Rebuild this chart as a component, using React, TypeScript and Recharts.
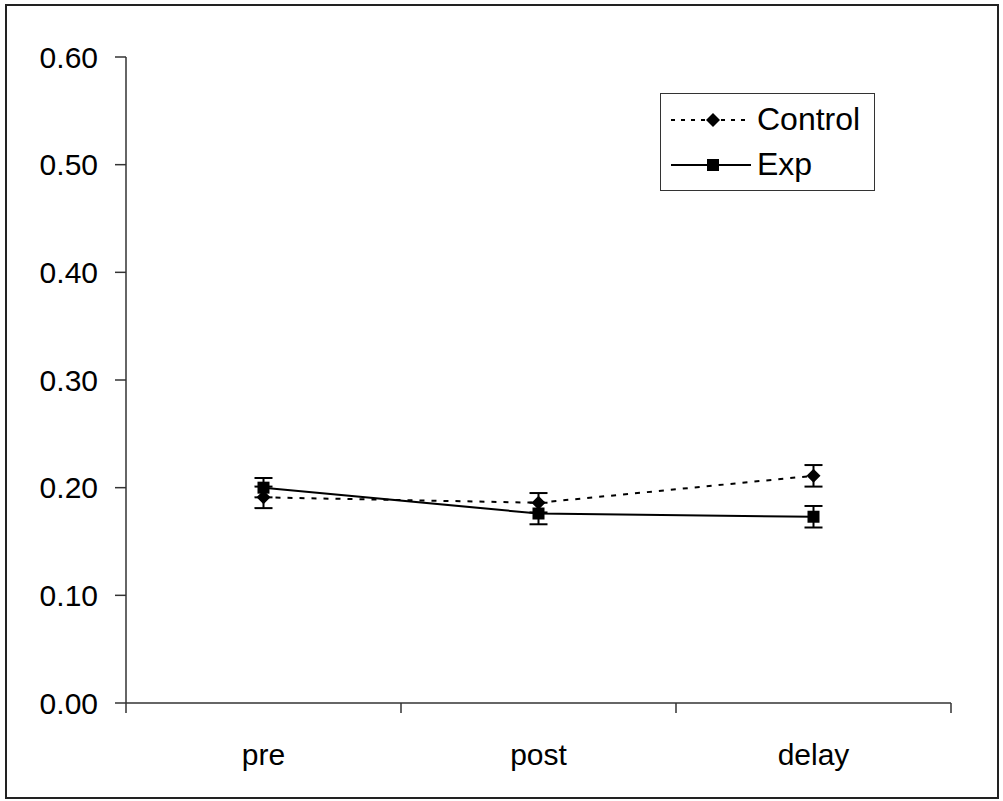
import React from 'react';
import { LineChart, Line, XAxis, YAxis, ErrorBar, Legend } from 'recharts';

const categories = ['pre', 'post', 'delay'];
const controlValues = [0.191, 0.186, 0.211];
const controlErrors = [0.01, 0.009, 0.01];
const expValues = [0.2, 0.176, 0.173];
const expErrors = [0.009, 0.01, 0.01];
const yTicks = [0, 0.1, 0.2, 0.3, 0.4, 0.5, 0.6];
const bandTicks = [-0.5, 0.5, 1.5, 2.5];
const labelTicks = [0, 1, 2];

const data = categories.map((name, i) => ({
  x: i,
  name,
  control: controlValues[i],
  controlErr: controlErrors[i],
  exp: expValues[i],
  expErr: expErrors[i],
}));

const FONT = '"Liberation Sans", Arial, sans-serif';

const Diamond = (props: any) => {
  const { cx, cy, index } = props;
  if (cx == null || cy == null) return null;
  const r = 7;
  return (
    <polygon
      key={`d-${index}`}
      points={`${cx},${cy - r} ${cx + r},${cy} ${cx},${cy + r} ${cx - r},${cy}`}
      fill="#000"
    />
  );
};

const Square = (props: any) => {
  const { cx, cy, index } = props;
  if (cx == null || cy == null) return null;
  const s = 12;
  return <rect key={`s-${index}`} x={cx - s / 2} y={cy - s / 2} width={s} height={s} fill="#000" />;
};

const legendItems = [
  { label: 'Control', dash: '4 6', shape: 'diamond' },
  { label: 'Exp', dash: undefined, shape: 'square' },
];

const LegendBox = () => (
  <div style={{ fontFamily: FONT, fontSize: 32, color: '#000' }}>
    {legendItems.map((item) => (
      <div key={item.label} style={{ display: 'flex', alignItems: 'center', height: 45 }}>
        <svg width={86} height={20} style={{ marginLeft: 8 }}>
          <line x1={2} y1={10} x2={82} y2={10} stroke="#000" strokeWidth={2} strokeDasharray={item.dash} />
          {item.shape === 'diamond' ? (
            <polygon points="44,3 51,10 44,17 37,10" fill="#000" />
          ) : (
            <rect x={38} y={4} width={12} height={12} fill="#000" />
          )}
        </svg>
        <span style={{ marginLeft: 2 }}>{item.label}</span>
      </div>
    ))}
  </div>
);

export default function App() {
  return (
    <div style={{ position: 'absolute', left: 0, top: 0, width: 1003, height: 801, background: '#fff' }}>
      <div
        style={{
          position: 'absolute',
          left: 5,
          top: 4,
          width: 994,
          height: 795,
          border: '2px solid #222',
          boxSizing: 'border-box',
        }}
      />
      <LineChart
        width={1003}
        height={801}
        data={data}
        margin={{ top: 57, right: 52, bottom: 0, left: 26 }}
        style={{ position: 'absolute', left: 0, top: 0 }}
      >
        <XAxis
          dataKey="x"
          type="number"
          domain={[-0.5, 2.5]}
          ticks={bandTicks}
          tickFormatter={() => ''}
          tickSize={10}
          height={1}
          stroke="#333"
          strokeWidth={1.5}
        />
        <XAxis
          xAxisId="labels"
          dataKey="x"
          type="number"
          domain={[-0.5, 2.5]}
          ticks={labelTicks}
          tickFormatter={(v: number) => categories[v]}
          axisLine={false}
          tickLine={false}
          tickSize={0}
          tickMargin={40}
          height={97}
          tick={{ fill: '#000', fontSize: 30, fontFamily: FONT }}
        />
        <YAxis
          type="number"
          domain={[0, 0.6]}
          ticks={yTicks}
          tickFormatter={(v: number) => v.toFixed(2)}
          width={100}
          tickSize={11}
          tickMargin={17}
          stroke="#333"
          strokeWidth={1.5}
          tick={{ fill: '#000', fontSize: 30, fontFamily: FONT }}
        />
        <Legend
          layout="horizontal"
          verticalAlign="middle"
          align="center"
          content={<LegendBox />}
          wrapperStyle={{
            left: 660,
            top: 93,
            width: 215,
            height: 98,
            border: '1.5px solid #333',
            background: '#fff',
            boxSizing: 'border-box',
            paddingTop: 3,
          }}
        />
        <Line
          dataKey="control"
          stroke="#000"
          strokeWidth={2}
          strokeDasharray="5 7"
          dot={Diamond}
          activeDot={false}
          isAnimationActive={false}
          type="linear"
        >
          <ErrorBar dataKey="controlErr" width={9} stroke="#000" strokeWidth={2} direction="y" />
        </Line>
        <Line
          dataKey="exp"
          stroke="#000"
          strokeWidth={2}
          dot={Square}
          activeDot={false}
          isAnimationActive={false}
          type="linear"
        >
          <ErrorBar dataKey="expErr" width={9} stroke="#000" strokeWidth={2} direction="y" />
        </Line>
      </LineChart>
    </div>
  );
}
